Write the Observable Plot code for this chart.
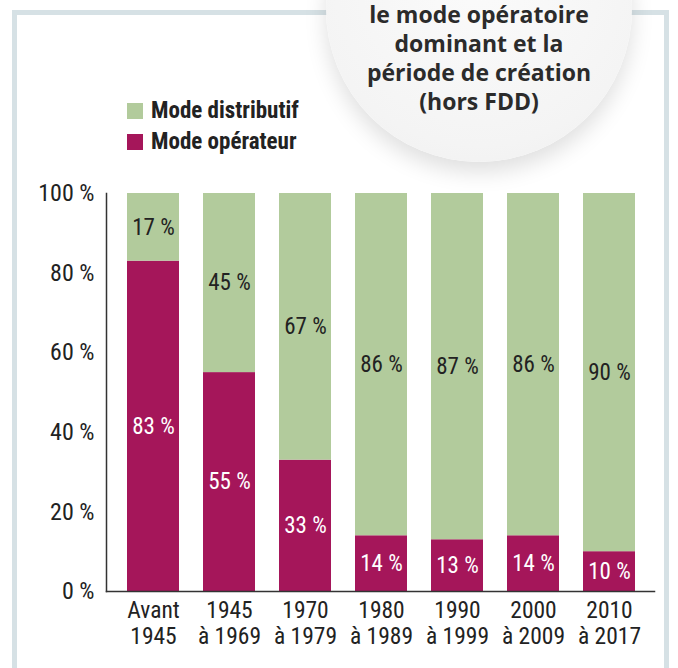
<!DOCTYPE html>
<html><head><meta charset="utf-8">
<script src="https://cdn.jsdelivr.net/npm/d3@7"></script>
<script src="https://cdn.jsdelivr.net/npm/@observablehq/plot@0.6"></script>
<style>
body{margin:0;background:#fff;}
#wrap{position:relative;width:678px;height:668px;overflow:hidden;background:#fff;}
#wrap svg{position:absolute;left:0;top:0;}
#border{position:absolute;left:12px;top:10px;height:720px;border:5px solid #d6e1e5;box-sizing:border-box;width:657px;}
#badge{position:absolute;left:326px;top:-144px;width:306px;height:306px;border-radius:50%;
 background:radial-gradient(circle at 50% 40%, #fbfbfb 0%, #f4f4f4 70%, #eeeeee 100%);
 box-shadow:0 10px 22px rgba(0,0,0,0.13);}
#title{position:absolute;left:306px;width:346px;top:0px;text-align:center;font-family:"Open Sans",sans-serif;font-weight:700;font-size:23px;line-height:29px;color:#2b2b2b;}
#legend{position:absolute;left:127px;top:95px;font-family:"Roboto Condensed","Open Sans",sans-serif;font-weight:700;font-size:23px;color:#222;}
#legend div{height:31px;display:flex;align-items:center;}
#legend span.sw{display:inline-block;width:16px;height:16px;margin-right:8px;}
</style>
</head><body>
<div id="wrap">
 <div id="border"></div>
 <div id="badge"></div>
 <div id="title">le mode opératoire<br>dominant et la<br>période de création<br>(hors FDD)</div>
 <div id="legend"></div>
</div>
<script>
const periods = ["Avant\n1945","1945\nà 1969","1970\nà 1979","1980\nà 1989","1990\nà 1999","2000\nà 2009","2010\nà 2017"];
const operateur = [83,55,33,14,13,14,10];
const distributif = [17,45,67,86,87,86,90];
const yTicks = [0,20,40,60,80,100];
const modes = ["Mode opérateur","Mode distributif"];
const barColors = {"Mode opérateur":"#a5165a","Mode distributif":"#b2cb9c"};
const labelColors = {"Mode opérateur":"#ffffff","Mode distributif":"#222222"};
const legendOrder = ["Mode distributif","Mode opérateur"];

const rows = [];
periods.forEach((p,i)=>{
  rows.push({period:p, mode:modes[0], value:operateur[i]});
  rows.push({period:p, mode:modes[1], value:distributif[i]});
});

const font = '"Roboto Condensed","Open Sans",sans-serif';
const chart = Plot.plot({
  width:678, height:668,
  marginLeft:106, marginRight:24, marginTop:193, marginBottom:77,
  style:{background:"transparent", fontFamily:font, color:"#222", overflow:"visible"},
  x:{domain:periods, paddingInner:0.32, paddingOuter:0, insetLeft:21, insetRight:19, label:null},
  y:{domain:[0,100], label:null},
  color:{type:"identity"},
  marks:[
    Plot.barY(rows, {x:"period", y:"value", z:"mode", fill:d=>barColors[d.mode]}),
    Plot.text(rows, Plot.stackY({x:"period", y:"value", z:"mode", text:d=>d.value+" %", fill:d=>labelColors[d.mode], fontSize:23})),
    Plot.axisY({ticks:yTicks, tickFormat:d=>d+" %", tickSize:0, tickPadding:12, fontSize:24, fill:"#222"}),
    Plot.axisX({tickSize:0, tickPadding:8, fontSize:23.5, lineHeight:1.1, fill:"#222"}),
    Plot.frame({anchor:"left", stroke:"#333", strokeWidth:1.5}),
    Plot.frame({anchor:"bottom", stroke:"#333", strokeWidth:1.5})
  ]
});
document.getElementById("wrap").insertBefore(chart, document.getElementById("border"));

const leg = document.getElementById("legend");
legendOrder.forEach(m=>{
  const d = document.createElement("div");
  d.innerHTML = `<span class="sw" style="background:${barColors[m]}"></span>${m}`;
  leg.appendChild(d);
});
</script>
</body></html>
